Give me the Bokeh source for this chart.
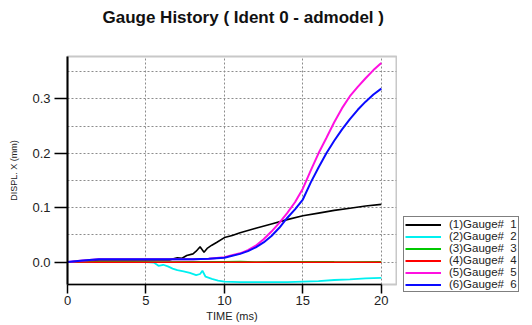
from bokeh.plotting import figure
from bokeh.layouts import row
from bokeh.models import (Range1d, FixedTicker, PrintfTickFormatter, Legend,
                          LegendItem, Title)
from bokeh.embed import file_html
from bokeh.resources import INLINE

# ---------------- data ----------------
title_text = "Gauge History ( Ident 0 - admodel )"
x_label = "TIME (ms)"
y_label = "DISPL. X (mm)"
x_ticks = [0, 5, 10, 15, 20]
y_ticks = [0.0, 0.1, 0.2, 0.3]
y_minor = [0.05, 0.15, 0.25, 0.35]

series_names = ["(1)Gauge#  1", "(2)Gauge#  2", "(3)Gauge#  3",
                "(4)Gauge#  4", "(5)Gauge#  5", "(6)Gauge#  6"]

t_g1 = [0, 1, 2, 3, 4, 5, 6, 6.5, 7, 7.3, 7.6, 8, 8.2, 8.45, 8.7, 8.9,
        9.2, 9.5, 10, 10.5, 11, 12, 13, 14, 15, 16, 17, 18, 19, 20]
v_g1 = [0, 0.002, 0.004, 0.004, 0.004, 0.004, 0.004, 0.004, 0.008, 0.007,
        0.012, 0.015, 0.020, 0.028, 0.018, 0.025, 0.031, 0.036, 0.045,
        0.049, 0.054, 0.062, 0.070, 0.078, 0.085, 0.090, 0.095, 0.099,
        0.103, 0.106]

t_g2 = [0, 1, 2, 3, 4, 5, 5.5, 5.8, 6.1, 6.4, 6.7, 7.0, 7.4, 7.8, 8.2,
        8.45, 8.6, 8.8, 9.2, 9.6, 10, 11, 12, 13, 14, 15, 16, 17, 18, 19, 20]
v_g2 = [0, 0, 0, 0, 0, 0, -0.001, -0.007, -0.005, -0.008, -0.012, -0.015,
        -0.017, -0.020, -0.024, -0.022, -0.016, -0.027, -0.031, -0.034,
        -0.036, -0.037, -0.037, -0.037, -0.037, -0.036, -0.035, -0.033,
        -0.032, -0.030, -0.029]

t_g3 = [0, 2, 4, 6, 8, 10, 11, 12, 13, 14, 15, 16, 17, 18, 20]
v_g3 = [0, 0.0004, 0.0004, 0.0003, 0.0005, 0.0004, 0.0008, 0.0003,
        0.0006, 0.0004, 0.0005, 0.0007, 0.0004, 0.0003, 0.0004]

t_g4 = [0, 2, 4, 6, 8, 10, 12, 14, 16, 18, 20]
v_g4 = [0, -0.0003, -0.0003, -0.0004, -0.0003, -0.0003, -0.0002,
        -0.0002, -0.0002, -0.0002, -0.0002]

t_g5 = [0, 1, 2, 4, 6, 8, 9, 10, 11, 11.5, 12, 12.5, 13, 13.5, 14, 14.5,
        15, 15.5, 16, 16.5, 17, 17.5, 18, 18.5, 19, 19.5, 20]
v_g5 = [0, 0.003, 0.005, 0.005, 0.005, 0.005, 0.006, 0.009, 0.016, 0.022,
        0.030, 0.042, 0.056, 0.072, 0.090, 0.110, 0.135, 0.168, 0.200,
        0.228, 0.257, 0.283, 0.305, 0.322, 0.338, 0.353, 0.366]

t_g6 = [0, 1, 2, 4, 6, 8, 9, 10, 11, 11.5, 12, 12.5, 13, 13.5, 14, 14.5,
        15, 15.5, 16, 16.5, 17, 17.5, 18, 18.5, 19, 19.5, 20]
v_g6 = [0, 0.003, 0.005, 0.005, 0.005, 0.005, 0.006, 0.008, 0.015, 0.020,
        0.027, 0.036, 0.048, 0.063, 0.081, 0.097, 0.115, 0.146, 0.174,
        0.200, 0.223, 0.244, 0.263, 0.280, 0.295, 0.308, 0.319]

colors = ["#000000", "#00f0f0", "#00c800", "#ff0000", "#ff10e0", "#0a0aff"]
widths = [1.6, 1.8, 1.5, 1.5, 2.0, 2.0]

# ---------------- main figure ----------------
FONT = "Liberation Sans"
p = figure(width=397, height=325, output_backend="svg", toolbar_location=None,
           x_range=Range1d(0, 20.97), y_range=Range1d(-0.0413, 0.378),
           min_border_left=67, min_border_right=1, min_border_top=0,
           min_border_bottom=41, background_fill_color="white",
           border_fill_color="white", title=title_text)
p.frame_align = False
p.outline_line_color = "#c8c8c8"
p.outline_line_width = 2

p.title.align = "left"
p.title.offset = 35
p.title.vertical_align = "middle"
p.title.standoff = 12
p.title.text_font = FONT
p.title.text_font_size = "17px"
p.title.text_font_style = "bold"
p.title.text_color = "#111111"
# blank spacer between title and frame
p.add_layout(Title(text=" ", text_font_size="1px", standoff=20), "above")

# axes
p.xaxis.ticker = FixedTicker(ticks=x_ticks)
p.xaxis.bounds = (0, 20)
p.xaxis.axis_line_color = "black"
p.xaxis.axis_line_width = 1.5
p.xaxis.major_tick_out = 9
p.xaxis.major_tick_in = 0
p.xaxis.major_tick_line_width = 1.5
p.xaxis.minor_tick_line_color = None
p.xaxis.major_label_text_font = FONT
p.xaxis.major_label_text_font_size = "13px"
p.xaxis.major_label_text_color = "#222222"
p.xaxis.major_label_standoff = 2
p.xaxis.axis_label = x_label
p.xaxis.axis_label_text_font = FONT
p.xaxis.axis_label_text_font_size = "11px"
p.xaxis.axis_label_text_font_style = "normal"
p.xaxis.axis_label_text_color = "#222222"
p.xaxis.axis_label_standoff = 2

p.yaxis.ticker = FixedTicker(ticks=y_ticks, minor_ticks=y_minor)
p.yaxis.formatter = PrintfTickFormatter(format="%.1f")
p.yaxis.axis_line_color = "black"
p.yaxis.axis_line_width = 2
p.yaxis.major_tick_out = 13
p.yaxis.major_tick_in = 0
p.yaxis.major_tick_line_width = 1.5
p.yaxis.minor_tick_line_color = None
p.yaxis.major_label_text_font = FONT
p.yaxis.major_label_text_font_size = "13px"
p.yaxis.major_label_text_color = "#222222"
p.yaxis.major_label_standoff = 4
p.yaxis.axis_label = y_label
p.yaxis.axis_label_text_font = FONT
p.yaxis.axis_label_text_font_size = "9px"
p.yaxis.axis_label_text_font_style = "normal"
p.yaxis.axis_label_text_color = "#222222"
p.yaxis.axis_label_standoff = 10

# grids
p.xgrid.ticker = FixedTicker(ticks=x_ticks)
p.xgrid.grid_line_color = "#8c8c8c"
p.xgrid.grid_line_dash = "2 2"
p.xgrid.grid_line_width = 1
p.ygrid.ticker = FixedTicker(ticks=y_ticks, minor_ticks=y_minor)
p.ygrid.grid_line_color = "#8c8c8c"
p.ygrid.grid_line_dash = "2 2"
p.ygrid.minor_grid_line_color = "#8c8c8c"
p.ygrid.minor_grid_line_dash = "2 2"

# lines
ts = [t_g1, t_g2, t_g3, t_g4, t_g5, t_g6]
vs = [v_g1, v_g2, v_g3, v_g4, v_g5, v_g6]
for t, v, c, w in zip(ts, vs, colors, widths):
    p.line(t, v, line_color=c, line_width=w)

# ---------------- legend panel ----------------
# the same series are drawn here outside the visible range; only their keys show
pl = figure(width=135, height=325, output_backend="svg", toolbar_location=None,
            x_range=Range1d(-2, -1), y_range=Range1d(-2, -1), min_border=0,
            background_fill_color="white", border_fill_color="white")
pl.frame_align = False
pl.outline_line_color = None
pl.axis.visible = False
pl.grid.visible = False
key_renderers = [pl.line(t, v, line_color=c, line_width=2)
                 for t, v, c in zip(ts, vs, colors)]
items = [LegendItem(label=n, renderers=[r]) for n, r in zip(series_names, key_renderers)]
legend = Legend(items=items, location=(6, 33), border_line_color="black",
                border_line_width=1.5, label_text_font=FONT,
                label_text_font_size="11.5px", label_text_line_height=1.0,
                label_text_color="#222222",
                glyph_width=36, glyph_height=11, label_height=11, spacing=0,
                padding=1, label_standoff=8, margin=0,
                background_fill_color="white", background_fill_alpha=1)
pl.add_layout(legend)

open("out.html", "w").write(file_html(row(p, pl), INLINE))
